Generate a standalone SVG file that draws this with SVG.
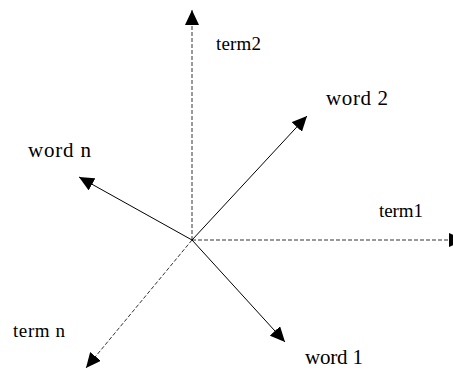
<svg xmlns="http://www.w3.org/2000/svg" width="453" height="370" viewBox="0 0 453 370">
<style>
.solid{stroke:#000;stroke-width:1;fill:none}
.dot{stroke:#333;stroke-width:1;fill:none;stroke-dasharray:4 2}
.term{font-family:"Liberation Serif","Times New Roman",serif;font-size:19px;fill:#000}
.word{font-family:"Liberation Serif","Times New Roman",serif;font-size:21px;fill:#000}
</style>
<defs>
<marker id="ah" markerUnits="userSpaceOnUse" markerWidth="16" markerHeight="14" refX="15" refY="7" orient="auto" viewBox="0 0 16 14">
<path d="M0,0 L15,7 L0,14 z" fill="#000"/>
</marker>
</defs>
<g id="connectors">
<line class="dot" x1="192" y1="240" x2="192" y2="10" marker-end="url(#ah)"/>
<line class="dot" x1="192" y1="240" x2="464" y2="240" marker-end="url(#ah)"/>
<line class="dot" x1="192" y1="240" x2="86" y2="368" marker-end="url(#ah)"/>
<line class="solid" x1="192" y1="240" x2="307" y2="116" marker-end="url(#ah)"/>
<line class="solid" x1="192" y1="240" x2="79" y2="177" marker-end="url(#ah)"/>
<line class="solid" x1="192" y1="240" x2="285" y2="342" marker-end="url(#ah)"/>
</g>
<g id="term2"><text class="term" x="216" y="50" textLength="45">term2</text></g>
<g id="term1"><text class="term" x="379" y="217" textLength="44">term1</text></g>
<g id="termn"><text class="term" x="13" y="337" textLength="52">term n</text></g>
<g id="word2"><text class="word" x="326" y="105" textLength="62">word 2</text></g>
<g id="wordn"><text class="word" x="28" y="157" textLength="63">word n</text></g>
<g id="word1"><text class="word" x="305" y="364" textLength="58">word 1</text></g>
</svg>
